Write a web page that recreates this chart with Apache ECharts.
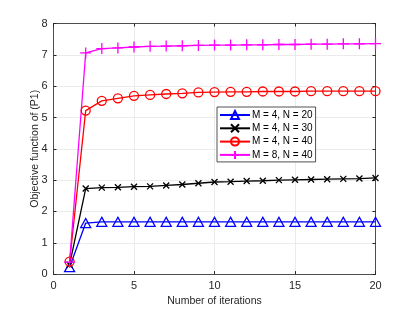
<!DOCTYPE html>
<html><head><meta charset="utf-8">
<script src="https://cdn.jsdelivr.net/npm/echarts@6/dist/echarts.min.js"></script>
<style>html,body{margin:0;padding:0;background:#fff}#c{width:415px;height:312px}</style>
</head><body><div id="c"></div>
<script>
const iterations = [1,2,3,4,5,6,7,8,9,10,11,12,13,14,15,16,17,18,19,20];
const seriesNames = ['M = 4, N = 20','M = 4, N = 30','M = 4, N = 40','M = 8, N = 40'];
const s20 = [0.22,1.63,1.67,1.67,1.67,1.67,1.67,1.67,1.67,1.67,1.67,1.67,1.67,1.67,1.67,1.67,1.67,1.67,1.67,1.67];
const s30 = [0.30,2.73,2.76,2.77,2.79,2.80,2.83,2.86,2.90,2.94,2.95,2.97,2.98,3.00,3.01,3.02,3.03,3.04,3.05,3.07];
const s40 = [0.40,5.22,5.53,5.61,5.69,5.72,5.75,5.77,5.80,5.81,5.82,5.82,5.83,5.83,5.83,5.84,5.84,5.84,5.84,5.84];
const s840 = [0.38,7.06,7.20,7.22,7.25,7.27,7.28,7.29,7.30,7.31,7.31,7.32,7.32,7.33,7.33,7.34,7.34,7.35,7.35,7.36];
const xTicks = [0,5,10,15,20];
const yTicks = [0,1,2,3,4,5,6,7,8];

const colors = ['#0000ff','#000000','#ff0000','#ff00ff'];
const symbols = [
  'path://M5,0 L10,9 L0,9 Z',
  'path://M0,0 L10,10 M10,0 L0,10',
  'circle',
  'path://M5,0 L5,10 M0,5 L10,5'
];
const symSizes = [[10,9],6,9,[11,11]];
const allData = [s20,s30,s40,s840];
const font = 'Liberation Sans, Arial, sans-serif';
const axisColor = '#262626';

const series = allData.map((d,i)=>({
  name: seriesNames[i],
  type: 'line',
  data: iterations.map((x,j)=>[x,d[j]]),
  symbol: symbols[i],
  symbolSize: symSizes[i],
  showAllSymbol: true,
  lineStyle: {color: colors[i], width: 1.3},
  itemStyle: {color: 'rgba(0,0,0,0)', borderColor: colors[i], borderWidth: 1.3},
  emphasis: {disabled: true},
  animation: false
}));

const chart = echarts.init(document.getElementById('c'), null, {renderer:'canvas'});
chart.setOption({
  animation: false,
  grid: {left: 53.5, right: 39.5, top: 23.5, bottom: 34.5, show: false},
  legend: {
    data: seriesNames,
    orient: 'vertical',
    left: 217, top: 107,
    itemWidth: 30, itemHeight: 10, itemGap: 3.3,
    padding: [3,3,2,2],
    backgroundColor: '#fff',
    borderColor: axisColor, borderWidth: 0.8,
    textStyle: {fontFamily: font, fontSize: 10, lineHeight: 10, color: '#000', padding: [0,0,0,-3]},
    selectedMode: false
  },
  xAxis: [{
    type: 'value', min: 0, max: 20, interval: 5,
    name: 'Number of iterations', nameLocation: 'middle', nameGap: 21,
    nameTextStyle: {fontFamily: font, fontSize: 10.5, color: axisColor},
    axisLine: {show: true, onZero: false, lineStyle: {color: axisColor, width: 0.8}},
    axisTick: {show: true, inside: true, length: 3, lineStyle: {color: axisColor}},
    axisLabel: {fontFamily: font, fontSize: 11, color: axisColor, margin: 6},
    splitLine: {show: true, lineStyle: {color: '#e6e6e6', width: 0.8}}
  },{
    type: 'value', min: 0, max: 20, interval: 5, position: 'top',
    axisLine: {show: true, onZero: false, lineStyle: {color: axisColor, width: 0.8}},
    axisTick: {show: true, inside: true, length: 3, lineStyle: {color: axisColor}},
    axisLabel: {show: false}, splitLine: {show: false}
  }],
  yAxis: [{
    type: 'value', min: 0, max: 8, interval: 1,
    name: 'Objective function of (P1)', nameLocation: 'middle', nameGap: 13,
    nameMoveOverlap: false,
    nameTextStyle: {fontFamily: font, fontSize: 10.5, color: axisColor},
    axisLine: {show: true, onZero: false, lineStyle: {color: axisColor, width: 0.8}},
    axisTick: {show: true, inside: true, length: 3, lineStyle: {color: axisColor}},
    axisLabel: {fontFamily: font, fontSize: 11, color: axisColor, margin: 6},
    splitLine: {show: true, lineStyle: {color: '#e6e6e6', width: 0.8}}
  },{
    type: 'value', min: 0, max: 8, interval: 1, position: 'right',
    axisLine: {show: true, onZero: false, lineStyle: {color: axisColor, width: 0.8}},
    axisTick: {show: true, inside: true, length: 3, lineStyle: {color: axisColor}},
    axisLabel: {show: false}, splitLine: {show: false}
  }],
  series: series
});
</script></body></html>
